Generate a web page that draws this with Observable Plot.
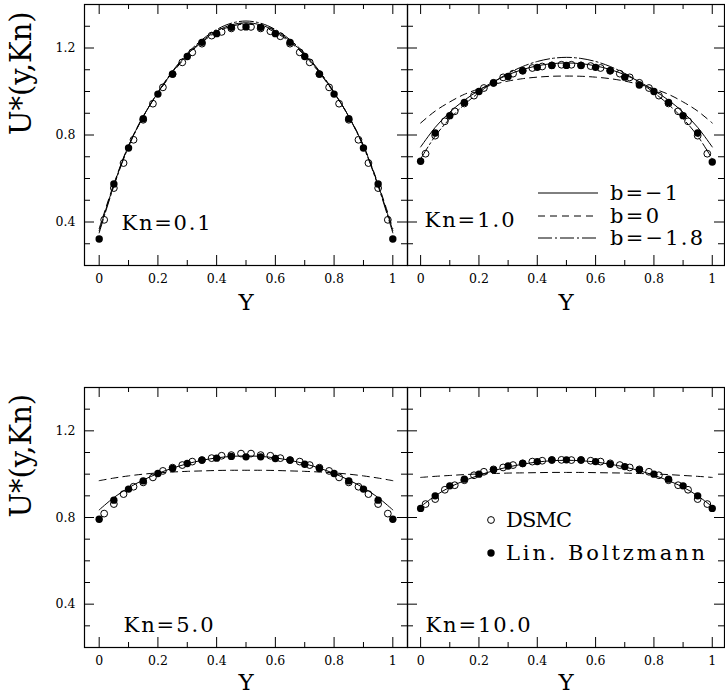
<!DOCTYPE html>
<html><head><meta charset="utf-8">
<script src="https://cdn.jsdelivr.net/npm/d3@7"></script>
<script src="https://cdn.jsdelivr.net/npm/@observablehq/plot@0.6"></script>
<style>
body{margin:0;background:#fff;}
#c{position:relative;width:725px;height:700px;}
#c > svg{position:absolute;left:0;top:0;overflow:visible;}
</style>
</head><body><div id="c"></div>
<script>
// positions across the channel
const Y21 = [0,0.05,0.1,0.15,0.2,0.25,0.3,0.35,0.4,0.45,0.5,0.55,0.6,0.65,0.7,0.75,0.8,0.85,0.9,0.95,1];
const Y30 = [0.017,0.05,0.083,0.117,0.15,0.183,0.217,0.25,0.283,0.317,0.35,0.383,0.417,0.45,0.483,0.517,0.55,0.583,0.617,0.65,0.683,0.717,0.75,0.783,0.817,0.85,0.883,0.917,0.95,0.983];

// Kn = 0.1
const lb01   = [0.322,0.575,0.74,0.875,0.988,1.08,1.161,1.226,1.266,1.295,1.297,1.295,1.266,1.226,1.161,1.08,0.988,0.875,0.74,0.575,0.322];
const dsmc01 = [0.41,0.556,0.671,0.778,0.87,0.944,1.019,1.08,1.134,1.18,1.22,1.257,1.274,1.29,1.297,1.297,1.29,1.277,1.254,1.22,1.18,1.134,1.08,1.019,0.944,0.87,0.778,0.671,0.556,0.41];
const bm1_01 = [0.36,0.57,0.75,0.885,0.995,1.09,1.17,1.232,1.278,1.306,1.316,1.306,1.278,1.232,1.17,1.09,0.995,0.885,0.75,0.57,0.36];
const b0_01  = [0.37,0.575,0.752,0.886,0.993,1.086,1.165,1.227,1.272,1.3,1.31,1.3,1.272,1.227,1.165,1.086,0.993,0.886,0.752,0.575,0.37];
const bm18_01= [0.35,0.565,0.746,0.884,0.997,1.094,1.175,1.238,1.285,1.314,1.324,1.314,1.285,1.238,1.175,1.094,0.997,0.884,0.746,0.565,0.35];

// Kn = 1.0
const lb1   = [0.679,0.809,0.889,0.95,1.0,1.039,1.069,1.096,1.111,1.12,1.12,1.12,1.111,1.096,1.066,1.03,1.0,0.95,0.889,0.809,0.676];
const dsmc1 = [0.714,0.797,0.863,0.909,0.945,0.981,1.016,1.04,1.065,1.082,1.095,1.108,1.115,1.12,1.123,1.123,1.12,1.117,1.108,1.095,1.082,1.065,1.04,1.016,0.981,0.945,0.909,0.863,0.797,0.714];
const bm1_1 = [0.745,0.835,0.905,0.96,1.005,1.045,1.077,1.101,1.118,1.128,1.131,1.128,1.118,1.101,1.077,1.045,1.005,0.96,0.905,0.835,0.745];
const b0_1  = [0.855,0.91,0.952,0.987,1.012,1.032,1.048,1.059,1.066,1.07,1.071,1.07,1.066,1.059,1.048,1.032,1.012,0.987,0.952,0.91,0.855];
const bm18_1= [0.69,0.795,0.875,0.94,0.995,1.043,1.083,1.115,1.138,1.152,1.157,1.152,1.138,1.115,1.083,1.043,0.995,0.94,0.875,0.795,0.69];

// Kn = 5.0
const lb5   = [0.792,0.88,0.931,0.969,1.003,1.026,1.049,1.065,1.074,1.082,1.08,1.08,1.072,1.065,1.046,1.026,1.003,0.969,0.931,0.88,0.792];
const dsmc5 = [0.818,0.862,0.908,0.942,0.962,0.985,1.015,1.03,1.042,1.058,1.065,1.074,1.085,1.088,1.095,1.095,1.088,1.085,1.074,1.065,1.058,1.042,1.03,1.015,0.985,0.962,0.942,0.908,0.862,0.818];
const bm1_5 = [0.835,0.892,0.937,0.973,1.003,1.028,1.048,1.064,1.075,1.082,1.084,1.082,1.075,1.064,1.048,1.028,1.003,0.973,0.937,0.892,0.835];
const b0_5  = [0.97,0.982,0.992,1.0,1.006,1.01,1.013,1.015,1.017,1.018,1.018,1.018,1.017,1.015,1.013,1.01,1.006,1.0,0.992,0.982,0.97];

// Kn = 10.0
const lb10   = [0.842,0.9,0.946,0.977,1.0,1.02,1.038,1.049,1.058,1.066,1.066,1.066,1.058,1.046,1.035,1.02,1.0,0.977,0.946,0.9,0.842];
const dsmc10 = [0.862,0.885,0.928,0.949,0.972,0.995,1.011,1.022,1.031,1.042,1.05,1.058,1.062,1.065,1.066,1.065,1.065,1.062,1.058,1.05,1.042,1.031,1.022,1.011,0.995,0.972,0.949,0.928,0.885,0.862];
const bm1_10 = [0.85,0.9,0.94,0.97,0.995,1.016,1.033,1.046,1.056,1.062,1.064,1.062,1.056,1.046,1.033,1.016,0.995,0.97,0.94,0.9,0.85];
const b0_10  = [0.985,0.99,0.994,0.998,1.001,1.003,1.005,1.006,1.007,1.008,1.008,1.008,1.007,1.006,1.005,1.003,1.001,0.998,0.994,0.99,0.985];

// ticks and labels
const xMajor = [0,0.2,0.4,0.6,0.8,1];
const xMinor = [0.1,0.3,0.5,0.7,0.9];
const yMajor = [0.4,0.8,1.2];
const yMinor = [0.3,0.5,0.6,0.7,0.9,1.0,1.1,1.3];
const xTickText = ["0","0.2","0.4","0.6","0.8","1"];
const yTickText = ["0.4","0.8","1.2"];
const panelLabels = ["Kn=0.1","Kn=1.0","Kn=5.0","Kn=10.0"];
const lineLegend = ["b=\u22121","b=0","b=\u22121.8"];
const dotLegend = ["DSMC","Lin. Boltzmann"];
const yTitle = "U*(y,Kn)";
const xTitle = "Y";

const FONT = "DejaVu Serif";
const W = 725, H = 700;
// text widths matched to the reference typeface
const textWidths = {"Kn=0.1": 89, "Kn=1.0": 90, "Kn=5.0": 90, "Kn=10.0": 105,
  "b=\u22121": 68, "b=0": 49, "b=\u22121.8": 93, "DSMC": 66, "Lin. Boltzmann": 199};

function panel(o) {
  const plotW = W - o.ml - o.mr, plotH = H - o.mt - o.mb;
  const marks = [
    Plot.frame({stroke: "black", strokeWidth: 1.2}),
    Plot.ruleX(xMajor, {insetTop: plotH - 10, stroke: "black"}),
    Plot.ruleX(xMinor, {insetTop: plotH - 5, stroke: "black"}),
    Plot.ruleX(xMajor, {insetBottom: plotH - 10, stroke: "black"}),
    Plot.ruleX(xMinor, {insetBottom: plotH - 5, stroke: "black"}),
    Plot.ruleY(yMajor, {insetRight: plotW - 10, stroke: "black"}),
    Plot.ruleY(yMinor, {insetRight: plotW - 6, stroke: "black"}),
    Plot.ruleY(yMajor, {insetLeft: plotW - 10, stroke: "black"}),
    Plot.ruleY(yMinor, {insetLeft: plotW - 6, stroke: "black"}),
    Plot.axisX(xMajor, {anchor: "bottom", tickSize: 0, tickPadding: 9, fontSize: 12.5, label: null,
      tickFormat: (d, i) => xTickText[xMajor.indexOf(d)]}),
    Plot.text([xTitle], {frameAnchor: "bottom", dy: o.tdy, fontSize: 23, lineAnchor: "middle"})
  ];
  if (o.yAxis) {
    marks.push(Plot.axisY(yMajor, {anchor: "left", tickSize: 0, tickPadding: 9, fontSize: 12.5, label: null,
      tickFormat: d => yTickText[yMajor.indexOf(d)]}));
    marks.push(Plot.text([yTitle], {frameAnchor: "left", dx: -63, rotate: -90, fontSize: 29, lineAnchor: "middle"}));
  }
  const styles = [
    {key: "bm1", dash: null},
    {key: "b0", dash: "7,5"},
    {key: "bm18", dash: "14,3,2,3"}
  ];
  for (const s of styles) {
    const arr = o.lines[s.key];
    if (!arr) continue;
    marks.push(Plot.line(arr, {x: (d, i) => Y21[i], y: d => d, curve: "catmull-rom",
      stroke: "black", strokeWidth: 1, strokeDasharray: s.dash}));
  }
  marks.push(Plot.dot(o.dsmc, {x: (d, i) => Y30[i], y: d => d, r: 3.4, stroke: "black", strokeWidth: 1, fill: "none"}));
  marks.push(Plot.dot(o.lb, {x: (d, i) => Y21[i], y: d => d, r: 3.7, fill: "black", stroke: "none"}));
  marks.push(Plot.text([o.label], {frameAnchor: "bottom-left", dx: o.ldx, dy: o.ldy, textAnchor: "start",
    lineAnchor: "middle", fontSize: 21}));
  const svg = Plot.plot({
    width: W, height: H,
    marginLeft: o.ml, marginRight: o.mr, marginTop: o.mt, marginBottom: o.mb,
    x: {domain: o.xdom, axis: null},
    y: {domain: [0.2, 1.4], axis: null},
    style: {background: "transparent", overflow: "visible", fontFamily: FONT, color: "black"},
    marks
  });
  d3.select(svg).selectAll("text").each(function() {
    const w = textWidths[this.textContent];
    if (w) this.setAttribute("textLength", w);
  });
  return svg;
}

const c = document.getElementById("c");
const topRow = {mt: 4, mb: H - 265, tdy: 37};
const botRow = {mt: 387, mb: H - 647, tdy: 35};
c.appendChild(panel({...topRow, ml: 84, mr: W - 407, xdom: [-0.05, 1.05], yAxis: true,
  lines: {bm1: bm1_01, b0: b0_01, bm18: bm18_01}, dsmc: dsmc01, lb: lb01,
  label: panelLabels[0], ldx: 37, ldy: -42}));
c.appendChild(panel({...topRow, ml: 407, mr: 1, xdom: [-0.045, 1.042], yAxis: false,
  lines: {bm1: bm1_1, b0: b0_1, bm18: bm18_1}, dsmc: dsmc1, lb: lb1,
  label: panelLabels[1], ldx: 17, ldy: -45}));
c.appendChild(panel({...botRow, ml: 84, mr: W - 407, xdom: [-0.05, 1.05], yAxis: true,
  lines: {bm1: bm1_5, b0: b0_5}, dsmc: dsmc5, lb: lb5,
  label: panelLabels[2], ldx: 39, ldy: -22}));
c.appendChild(panel({...botRow, ml: 407, mr: 1, xdom: [-0.045, 1.042], yAxis: false,
  lines: {bm1: bm1_10, b0: b0_10}, dsmc: dsmc10, lb: lb10,
  label: panelLabels[3], ldx: 18, ldy: -22}));

// in-panel legends
const svg = d3.select(c).append("svg").attr("width", W).attr("height", H)
  .style("font-family", FONT);
const dashes = [null, "7,5", "14,3,2,3"];
const ly = [193, 216, 238];
lineLegend.forEach((t, i) => {
  const g = svg.append("g");
  g.append("line").attr("x1", 538).attr("x2", 598).attr("y1", ly[i]).attr("y2", ly[i])
    .attr("stroke", "black").attr("stroke-width", 1).attr("stroke-dasharray", dashes[i]);
  g.append("text").attr("x", 610).attr("y", ly[i]).attr("dy", "0.35em").attr("font-size", 21)
    .attr("textLength", textWidths[t]).text(t);
});
const dy2 = [520, 553];
dotLegend.forEach((t, i) => {
  svg.append("circle").attr("cx", 491).attr("cy", dy2[i]).attr("r", i ? 3.7 : 3.4)
    .attr("fill", i ? "black" : "none").attr("stroke", i ? "none" : "black");
  svg.append("text").attr("x", 506).attr("y", dy2[i]).attr("dy", "0.35em").attr("font-size", 21)
    .attr("textLength", textWidths[t]).text(t);
});
</script>
</body></html>
